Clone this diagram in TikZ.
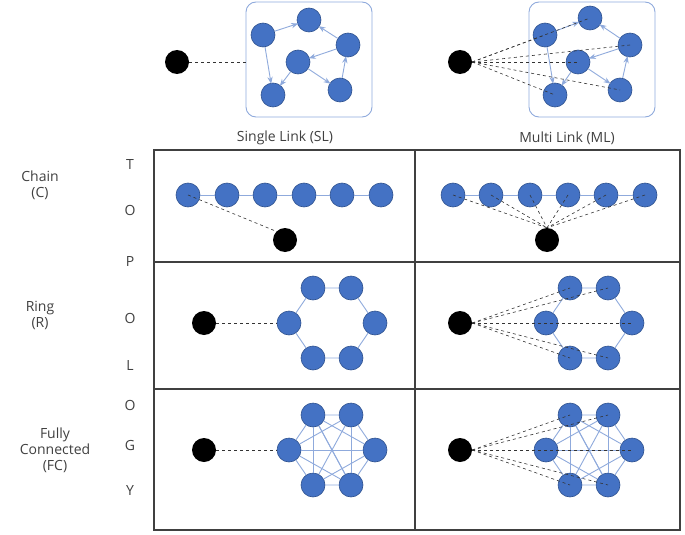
\documentclass[tikz,border=0pt]{standalone}
\usepackage{fontspec}
\setmainfont{Open Sans}
\usetikzlibrary{arrows.meta, positioning, calc}
\definecolor{nodeblue}{HTML}{4472C4}
\definecolor{nodeedge}{HTML}{2F528F}
\definecolor{linkblue}{HTML}{8FAADC}
\definecolor{txtgray}{HTML}{404040}
\begin{document}
\begin{tikzpicture}[
    x=1pt, y=-1pt,
    >=Stealth,
    font=\fontsize{14}{16}\selectfont,
    agent/.style={circle, fill=nodeblue, draw=nodeedge, line width=0.6pt, minimum size=24pt, inner sep=0pt},
    probe/.style={circle, fill=black, minimum size=24pt, inner sep=0pt},
    link/.style={linkblue, line width=0.9pt},
    arrow/.style={->, linkblue, line width=0.9pt, shorten >=-1pt},
    probeline/.style={dashed, black!80, line width=0.6pt},
    grid/.style={line width=1.4pt, black!75},
    label/.style={text=txtgray, align=center}
]
\useasboundingbox (0,0) rectangle (685,535);

% ===== Top: Single Link =====
\draw[linkblue, line width=0.9pt, rounded corners=10pt] (246,2) rectangle (372,117);
\node[probe] (sl) at (177,62) {};
\node[agent] (s1) at (263,35) {};
\node[agent] (s2) at (309,20) {};
\node[agent] (s3) at (348,45) {};
\node[agent] (s4) at (298,62) {};
\node[agent] (s5) at (273,95) {};
\node[agent] (s6) at (340,90) {};
\coordinate (slbox) at (246,62);
\draw[arrow] (s1) -- (s2);
\draw[arrow] (s3) -- (s2);
\draw[arrow] (s3) -- (s4);
\draw[arrow] (s1) -- (s5);
\draw[arrow] (s4) -- (s5);
\draw[arrow] (s4) -- (s6);
\draw[arrow] (s6) -- (s3);
\draw[probeline] (sl) -- (slbox);
\node[label] at (285,138) {Single Link (SL)};

% ===== Top: Multi Link =====
\draw[linkblue, line width=0.9pt, rounded corners=10pt] (529,2) rectangle (655,117);
\node[probe] (ml) at (460,62) {};
\node[agent] (m1) at (545,35) {};
\node[agent] (m2) at (590,18) {};
\node[agent] (m3) at (630,45) {};
\node[agent] (m4) at (578,62) {};
\node[agent] (m5) at (555,95) {};
\node[agent] (m6) at (620,90) {};
\draw[arrow] (m1) -- (m2);
\draw[arrow] (m3) -- (m2);
\draw[arrow] (m3) -- (m4);
\draw[arrow] (m1) -- (m5);
\draw[arrow] (m4) -- (m5);
\draw[arrow] (m4) -- (m6);
\draw[arrow] (m6) -- (m3);
\foreach \i in {1,...,6}
    \draw[probeline] (ml.east) -- (m\i.center);
\node[label] at (567,138) {Multi Link (ML)};

% ===== Grid =====
\draw[grid] (154,150) rectangle (680,530);
\draw[grid] (415,150) -- (415,530);
\draw[grid] (154,262) -- (680,262);
\draw[grid] (154,389) -- (680,389);

% Row labels
\node[label] at (40,185) {Chain\\(C)};
\node[label] at (40,315) {Ring\\(R)};
\node[label] at (55,450) {Fully\\Connected\\(FC)};
\foreach \ch/\y in {T/165, O/210, P/262, O/318, L/365, O/405, G/445, Y/490}
    \node[label] at (130,\y) {\ch};

% ===== Chain =====
\foreach \x [count=\i] in {188,227,265,304,342,381}
    \node[agent] (ca\i) at (\x,195) {};
\foreach \x [count=\i] in {453,491,530,568,606,645}
    \node[agent] (cb\i) at (\x,195) {};
\foreach \i [evaluate=\i as \j using int(\i+1)] in {1,...,5} {
    \draw[link] (ca\i) -- (ca\j);
    \draw[link] (cb\i) -- (cb\j);
}
\node[probe] (cp1) at (285,240) {};
\node[probe] (cp2) at (547,240) {};
\draw[probeline] (ca1.center) -- (cp1.north west);
\foreach \i in {1,...,6}
    \draw[probeline] (cb\i.center) -- (cp2.north);

% ===== Ring and Fully Connected =====
\foreach \nm/\cx/\cy in {ra/332/323, rb/589/323, fa/332/450, fb/589/450} {
    \node[agent] (\nm1) at (\cx-19,\cy-35) {};
    \node[agent] (\nm2) at (\cx+19,\cy-35) {};
    \node[agent] (\nm3) at (\cx+43,\cy) {};
    \node[agent] (\nm4) at (\cx+19,\cy+35) {};
    \node[agent] (\nm5) at (\cx-19,\cy+35) {};
    \node[agent] (\nm6) at (\cx-43,\cy) {};
    \draw[link] (\nm1) -- (\nm2) -- (\nm3) -- (\nm4) -- (\nm5) -- (\nm6) -- (\nm1);
}
\foreach \nm in {fa, fb}
    \foreach \i/\j in {1/3,1/4,1/5,2/4,2/5,2/6,3/5,3/6,4/6,1/4,3/6}
        \draw[link] (\nm\i) -- (\nm\j);

\node[probe] (rp1) at (204,323) {};
\node[probe] (rp2) at (460,323) {};
\node[probe] (fp1) at (204,450) {};
\node[probe] (fp2) at (460,450) {};
\draw[probeline] (rp1) -- (ra6);
\draw[probeline] (fp1) -- (fa6);
\foreach \i in {1,...,6} {
    \draw[probeline] (rp2.east) -- (rb\i.center);
    \draw[probeline] (fp2.east) -- (fb\i.center);
}
\end{tikzpicture}
\end{document}
